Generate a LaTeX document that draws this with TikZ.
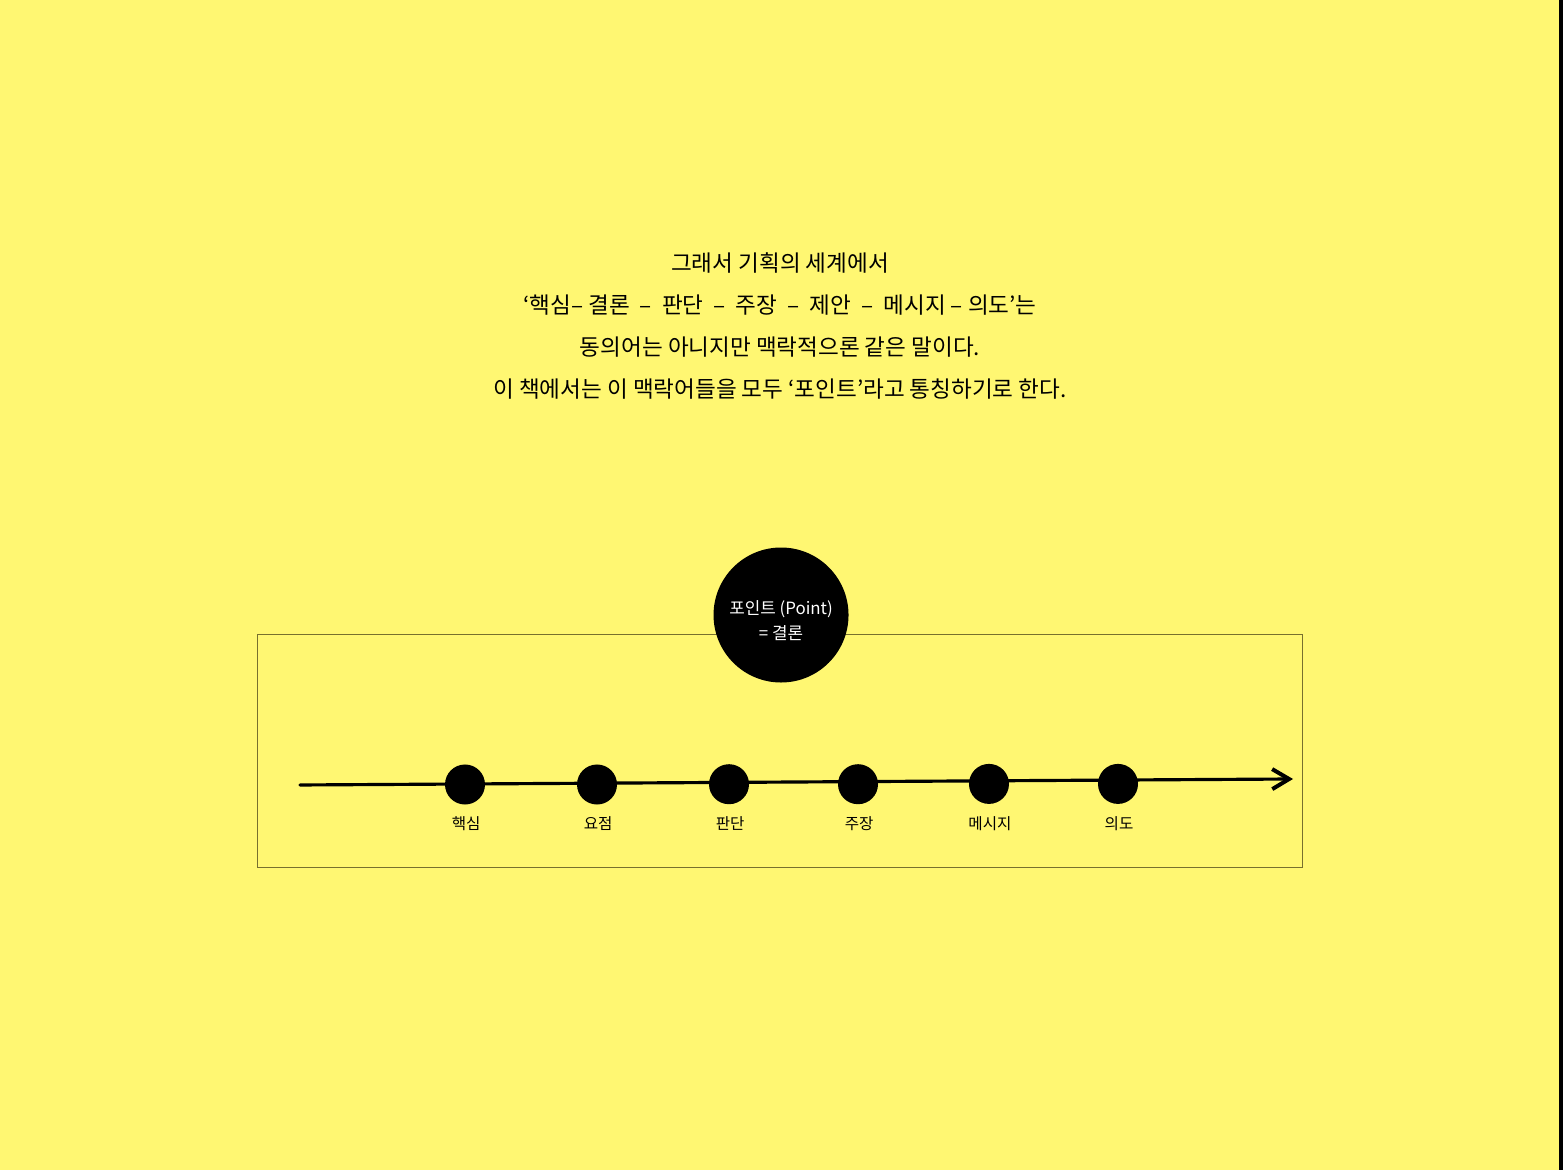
\documentclass[tikz,border=0pt]{standalone}
\usepackage{fontspec}
\setmainfont{Noto Sans CJK KR}
\usetikzlibrary{arrows.meta}
\definecolor{PageYellow}{HTML}{FFF772}
\definecolor{FrameOlive}{HTML}{77702E}
\definecolor{NiceBlack}{HTML}{000000}

\begin{document}
\begin{tikzpicture}[
    stagedot/.style={circle, fill=NiceBlack, minimum size=0.667cm, inner sep=0pt},
    stagelabel/.style={font=\fontsize{7.4}{8}\selectfont, text=NiceBlack},
  ]
      % Page
      \fill[PageYellow] (0,0) rectangle (26.05,19.5);
      \fill[NiceBlack] (25.983,0) rectangle (26.05,19.5);
      \useasboundingbox (0,0) rectangle (26.05,19.5);
      % Intro text
      \node[align=center, text=NiceBlack, font=\fontsize{10.7}{19.9}\selectfont]
      (intro) at (13.0,14.07) {그래서 기획의 세계에서\\
        ‘핵심– 결론 \ – \ 판단 \ – \ 주장 \ – \ 제안 \ – \ 메시지 – 의도’는\\
        동의어는 아니지만 맥락적으론 같은 말이다.\\
        이 책에서는 이 맥락어들을 모두 ‘포인트’라고 통칭하기로 한다.};
      % Frame
      \draw[FrameOlive, line width=0.45pt] (4.283,5.05) rectangle (21.70,8.933);
      \node[circle, fill=NiceBlack, minimum size=2.25cm, inner sep=0pt]
      (point) at (13.017,9.25) {};
      \node[align=center, text=white, font=\fontsize{8}{11.8}\selectfont]
      (pointtext) at ([yshift=-0.1cm]point.center) {포인트 (Point)\\= 결론};
      % Axis
      \coordinate (linestart) at (5.0,6.417);
      \coordinate (lineend) at (21.55,6.517);
      \draw[NiceBlack, line width=1.5pt, line cap=round,
      -{Straight Barb[length=8pt, width=9.5pt, line width=1.9pt]}]
      (linestart) -- (lineend);
      % Stages
      \node[stagedot] (haeksim) at (7.75,6.425) {};
      \node[stagedot] (yojeom) at (9.95,6.425) {};
      \node[stagedot] (pandan) at (12.15,6.43) {};
      \node[stagedot] (jujang) at (14.30,6.43) {};
      \node[stagedot] (mesiji) at (16.483,6.435) {};
      \node[stagedot] (uido) at (18.633,6.435) {};
      \node[stagelabel] (haeksimlabel) at (7.77,5.77) {핵심};
      \node[stagelabel] (yojeomlabel) at (9.97,5.77) {요점};
      \node[stagelabel] (pandanlabel) at (12.17,5.77) {판단};
      \node[stagelabel] (jujanglabel) at (14.32,5.77) {주장};
      \node[stagelabel] (mesijilabel) at (16.50,5.77) {메시지};
      \node[stagelabel] (uidolabel) at (18.65,5.77) {의도};
    \end{tikzpicture}
\end{document}
